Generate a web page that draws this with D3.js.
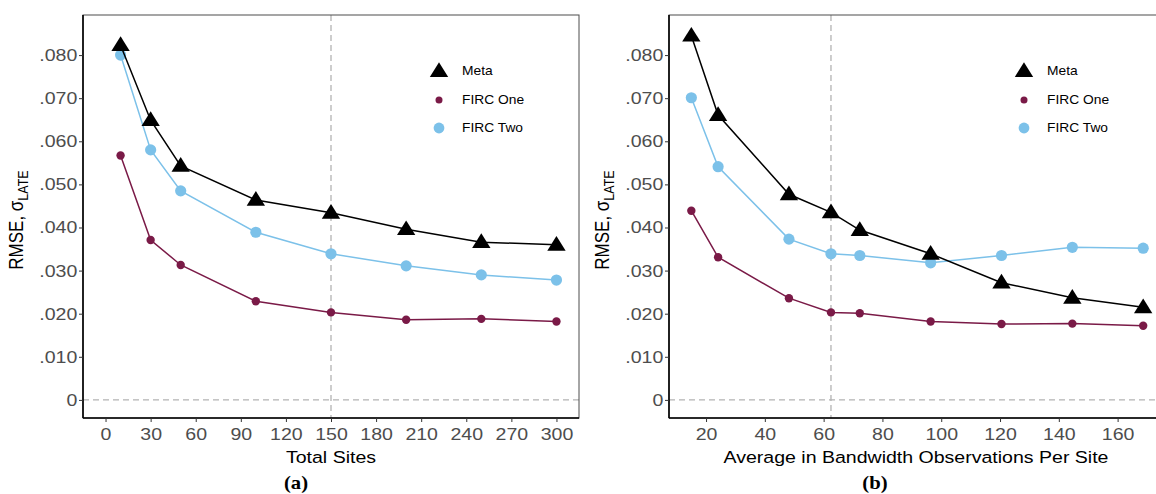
<!DOCTYPE html>
<html>
<head>
<meta charset="utf-8">
<style>
  body { margin: 0; background: #fff; }
  svg text { font-family: "Liberation Sans", Arial, sans-serif; }
</style>
</head>
<body>
<div id="chart"></div>
<script src="https://d3js.org/d3.v7.min.js"></script>
<script>
// Panel (a): total sites
const sitesX = [10, 30, 50, 100, 150, 200, 250, 300];
const sitesMeta = [0.0823, 0.0649, 0.0543, 0.0464, 0.0434, 0.0396, 0.0366, 0.0360];
const sitesFircOne = [0.0567, 0.0371, 0.0313, 0.0229, 0.0203, 0.0186, 0.0188, 0.0182];
const sitesFircTwo = [0.0800, 0.0580, 0.0485, 0.0389, 0.0339, 0.0311, 0.0290, 0.0278];
const sitesTicks = [0, 30, 60, 90, 120, 150, 180, 210, 240, 270, 300];

// Panel (b): observations per site
const obsX = [15, 24.1, 48.2, 62.5, 72.3, 96.4, 120.5, 144.6, 168.7];
const obsMeta = [0.0845, 0.0661, 0.0477, 0.0435, 0.0394, 0.0339, 0.0272, 0.0237, 0.0215];
const obsFircOne = [0.0439, 0.0331, 0.0236, 0.0203, 0.0201, 0.0182, 0.0176, 0.0177, 0.0172];
const obsFircTwo = [0.0701, 0.0541, 0.0373, 0.0339, 0.0335, 0.0318, 0.0335, 0.0354, 0.0352];
const obsTicks = [20, 40, 60, 80, 100, 120, 140, 160];

const yTicks = [0, 0.01, 0.02, 0.03, 0.04, 0.05, 0.06, 0.07, 0.08];
const seriesNames = ["Meta", "FIRC One", "FIRC Two"];

const colMeta = "#000000", colOne = "#7a1a47", colTwo = "#7cc1e9";

// the source figure is a bit wider than tall, so text gets stretched sideways
const sx = 1.15;

const svg = d3.select("#chart").append("svg")
    .attr("width", 1156)
    .attr("height", 494);

const plotTop = 15, plotBottom = 418;
const y = d3.scaleLinear().domain([-0.0042, 0.0893]).range([plotBottom, plotTop]);
const yFmt = d => d === 0 ? "0" : d3.format(".3f")(d).replace(/^0/, "");

function panel(o) {
    const x = d3.scaleLinear().domain(o.domain).range(o.range);
    const g = svg.append("g");
    const [x0, x1] = o.range;

    // dashed reference lines
    g.append("line")
        .attr("x1", x0).attr("x2", x1)
        .attr("y1", y(0)).attr("y2", y(0))
        .attr("stroke", "#b3b3b3").attr("stroke-width", 1.3)
        .attr("stroke-dasharray", "6,4");
    g.append("line")
        .attr("x1", x(o.vline)).attr("x2", x(o.vline))
        .attr("y1", plotTop).attr("y2", plotBottom)
        .attr("stroke", "#b3b3b3").attr("stroke-width", 1.3)
        .attr("stroke-dasharray", "6,4");

    // border
    g.append("rect")
        .attr("x", x0).attr("y", plotTop)
        .attr("width", x1 - x0).attr("height", plotBottom - plotTop)
        .attr("fill", "none").attr("stroke", "#4d4d4d").attr("stroke-width", 1);

    // axes
    const ya = g.append("g")
        .attr("transform", `translate(${x0},0)`)
        .call(d3.axisLeft(y).tickValues(yTicks).tickFormat(yFmt).tickSizeOuter(0).tickSize(4).tickPadding(1));
    const xa = g.append("g")
        .attr("transform", `translate(0,${plotBottom})`)
        .call(d3.axisBottom(x).tickValues(o.ticks).tickSizeOuter(0).tickSize(4).tickPadding(6));
    [ya, xa].forEach(a => {
        a.select(".domain").attr("stroke", "#000").attr("stroke-width", 1.6);
        a.selectAll(".tick line").attr("stroke", "#333");
        a.selectAll(".tick text")
            .attr("fill", "#4d4d4d")
            .attr("transform", `scale(${sx},1)`)
            .style("font-size", "17px");
    });
    ya.select(".domain").attr("d", `M0,${plotTop}V${plotBottom}`);
    xa.select(".domain").attr("d", `M${x0},0H${x1}`);

    // titles
    const yt = g.append("text")
        .attr("transform", `translate(${x0 - 60},220) scale(${sx},1) rotate(-90)`)
        .attr("text-anchor", "middle")
        .style("font-size", "17px")
        .attr("fill", "#000");
    yt.append("tspan").text("RMSE, σ");
    yt.append("tspan").attr("dy", 4).style("font-size", "12.5px").text("LATE");

    g.append("text")
        .attr("transform", `translate(${o.titleX},463) scale(${sx},1)`)
        .attr("text-anchor", "middle")
        .style("font-size", "17px")
        .text(o.title);

    g.append("text")
        .attr("transform", `translate(${o.labelX},489) scale(${sx},1)`)
        .attr("text-anchor", "middle")
        .style("font-family", "'Liberation Serif', serif")
        .style("font-weight", "bold")
        .style("font-size", "18px")
        .text(o.label);

    // series
    const line = d3.line().x(d => x(d[0])).y(d => y(d[1]));
    const series = [
        { vals: o.two, col: colTwo, shape: "big" },
        { vals: o.one, col: colOne, shape: "small" },
        { vals: o.meta, col: colMeta, shape: "tri" }
    ];
    const tri = d3.symbol().type(d3.symbolTriangle).size(125);
    series.forEach(s => {
        const pts = o.xs.map((v, i) => [v, s.vals[i]]);
        g.append("path").datum(pts)
            .attr("d", line)
            .attr("fill", "none").attr("stroke", s.col).attr("stroke-width", 1.5);
        if (s.shape === "tri") {
            g.selectAll(null).data(pts).join("path")
                .attr("d", tri)
                .attr("transform", d => `translate(${x(d[0])},${y(d[1]) + 1}) scale(1.08,1)`)
                .attr("fill", s.col);
        } else {
            g.selectAll(null).data(pts).join("circle")
                .attr("cx", d => x(d[0])).attr("cy", d => y(d[1]))
                .attr("r", s.shape === "big" ? 5.6 : 4.2)
                .attr("fill", s.col);
        }
    });

    // legend
    const lg = g.append("g").attr("transform", `translate(${o.legendX},0)`);
    const rows = [71, 100, 128];
    lg.append("path").attr("d", tri).attr("transform", `translate(0,${rows[0] + 1}) scale(1.08,1)`).attr("fill", colMeta);
    lg.append("circle").attr("cx", 0).attr("cy", rows[1]).attr("r", 3.5).attr("fill", colOne);
    lg.append("circle").attr("cx", 0).attr("cy", rows[2]).attr("r", 5.4).attr("fill", colTwo);
    seriesNames.forEach((n, i) => {
        lg.append("text")
            .attr("transform", `translate(23,${rows[i]}) scale(${sx},1)`)
            .attr("dy", "0.35em")
            .style("font-size", "12px")
            .text(n);
    });
}

panel({
    domain: [-15, 315], range: [83, 579],
    ticks: sitesTicks, xs: sitesX,
    meta: sitesMeta, one: sitesFircOne, two: sitesFircTwo,
    vline: 150, title: "Total Sites", titleX: 331,
    label: "(a)", labelX: 296, legendX: 439
});

panel({
    domain: [7.4, 175.1], range: [669, 1162],
    ticks: obsTicks, xs: obsX,
    meta: obsMeta, one: obsFircOne, two: obsFircTwo,
    vline: 62.5, title: "Average in Bandwidth Observations Per Site", titleX: 916,
    label: "(b)", labelX: 875, legendX: 1024
});
</script>
</body>
</html>
